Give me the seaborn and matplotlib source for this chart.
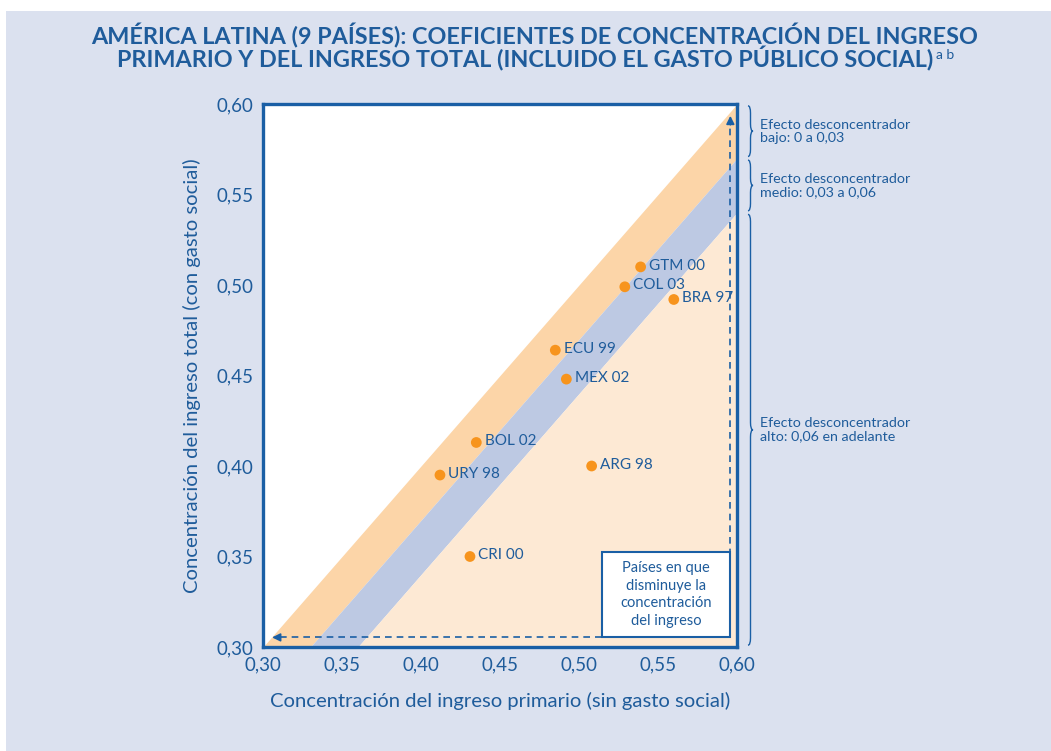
import matplotlib
matplotlib.use("Agg")
import matplotlib.pyplot as plt
import seaborn as sns
import pandas as pd
import numpy as np
from matplotlib.path import Path
from matplotlib.patches import PathPatch, Rectangle
from matplotlib.transforms import blended_transform_factory
from matplotlib.ticker import FuncFormatter

# ---------------- data ----------------
paises = ["GTM 00", "COL 03", "BRA 97", "ECU 99", "MEX 02", "BOL 02", "URY 98", "ARG 98", "CRI 00"]
ingreso_primario = [0.539, 0.529, 0.560, 0.485, 0.492, 0.435, 0.412, 0.508, 0.431]
ingreso_total = [0.510, 0.499, 0.492, 0.464, 0.448, 0.413, 0.395, 0.400, 0.350]
ticks = [0.30, 0.35, 0.40, 0.45, 0.50, 0.55, 0.60]
limites_efecto = [0.0, 0.03, 0.06]
etiquetas_efecto = ["Efecto desconcentrador\nbajo: 0 a 0,03",
                    "Efecto desconcentrador\nmedio: 0,03 a 0,06",
                    "Efecto desconcentrador\nalto: 0,06 en adelante"]

df = pd.DataFrame({"pais": paises, "x": ingreso_primario, "y": ingreso_total})

# ---------------- style ----------------
sns.set_style("white")
plt.rcParams["font.family"] = ["Lato", "DejaVu Sans"]

BLUE = "#1f5c9b"
SPINE = "#1a5fa5"
LAV = "#dbe1ef"
ORANGE_BAND = "#fcd5a8"
BLUE_BAND = "#bdc9e3"
PEACH = "#fde9d4"
DOT = "#f7941d"

fig = plt.figure(figsize=(10.51, 7.51), dpi=100)
fig.patch.set_facecolor("white")
fig.patches.append(Rectangle((6 / 1051, 0), 1 - 6 / 1051, 1 - 11 / 751,
                             transform=fig.transFigure, facecolor=LAV,
                             edgecolor="none", zorder=-10))

ax = fig.add_axes([263 / 1051, 1 - 647 / 751, 474 / 1051, 543 / 751])
ax.set_facecolor("white")
lo, hi = ticks[0], ticks[-1]
ax.set_xlim(lo, hi)
ax.set_ylim(lo, hi)

xs = np.array([lo, hi])
ax.fill_between(xs, xs - limites_efecto[0], xs - limites_efecto[1], color=ORANGE_BAND, lw=0, zorder=1)
ax.fill_between(xs, xs - limites_efecto[1], xs - limites_efecto[2], color=BLUE_BAND, lw=0, zorder=1)
ax.fill_between(xs, xs - limites_efecto[2], lo - 0.1, color=PEACH, lw=0, zorder=1)

# dashed arrows
xr, yb = 0.5958, 0.3053
ax.plot([xr, 0.309], [yb, yb], ls=(0, (4, 3)), color=SPINE, lw=1.2, zorder=2)
ax.plot([xr, xr], [yb, 0.588], ls=(0, (4, 3)), color=SPINE, lw=1.2, zorder=2)
ax.annotate("", xy=(0.304, yb), xytext=(0.312, yb),
            arrowprops=dict(arrowstyle="-|>", color=SPINE, lw=1.2, mutation_scale=12), zorder=3)
ax.annotate("", xy=(xr, 0.595), xytext=(xr, 0.587),
            arrowprops=dict(arrowstyle="-|>", color=SPINE, lw=1.2, mutation_scale=12), zorder=3)

# box
bx0, bx1, by0, by1 = 0.5144, xr, yb, 0.3527
ax.add_patch(Rectangle((bx0, by0), bx1 - bx0, by1 - by0, facecolor="white",
                       edgecolor=SPINE, lw=1.5, zorder=4))
ax.text((bx0 + bx1) / 2, (by0 + by1) / 2, "Países en que\ndisminuye la\nconcentración\ndel ingreso",
        ha="center", va="center", color=BLUE, fontsize=10.5, linespacing=1.35, zorder=5)

# points
sns.scatterplot(data=df, x="x", y="y", ax=ax, color=DOT, s=60, edgecolor="none", zorder=6, legend=False)
for p, x, y in zip(paises, ingreso_primario, ingreso_total):
    ax.annotate(p, (x, y), xytext=(6, 1), textcoords="offset points", ha="left", va="center",
                color=BLUE, fontsize=11, zorder=7)

# axes styling
ax.set_xticks(ticks)
ax.set_yticks(ticks)
fmt = FuncFormatter(lambda v, _: f"{v:.2f}".replace(".", ","))
ax.xaxis.set_major_formatter(fmt)
ax.yaxis.set_major_formatter(fmt)
ax.tick_params(direction="in", length=7, width=1.2, color=SPINE, labelcolor=BLUE,
               labelsize=13.5, pad=7)
for s in ax.spines.values():
    s.set_color(SPINE)
    s.set_linewidth(2.4)
    s.set_zorder(10)
ax.set_xlabel("Concentración del ingreso primario (sin gasto social)", color=BLUE, fontsize=14.6, labelpad=13)
ax.set_ylabel("Concentración del ingreso total (con gasto social)", color=BLUE, fontsize=14.6, labelpad=11)

# braces on the right
tr = blended_transform_factory(fig.transFigure, ax.transData)
bxf = 748 / 1051
bw = 5 / 1051
r = 0.004


def brace(y0, y1):
    ym = (y0 + y1) / 2
    xm = bxf + bw / 2
    verts = [(bxf, y1), (xm, y1), (xm, y1 - r), (xm, ym + r), (xm, ym), (bxf + bw, ym),
             (xm, ym), (xm, ym - r), (xm, y0 + r), (xm, y0), (bxf, y0)]
    codes = [Path.MOVETO, Path.CURVE3, Path.CURVE3, Path.LINETO, Path.CURVE3, Path.CURVE3,
             Path.CURVE3, Path.CURVE3, Path.LINETO, Path.CURVE3, Path.CURVE3]
    fig.patches.append(PathPatch(Path(verts, codes), transform=tr, facecolor="none",
                                 edgecolor=SPINE, lw=1.0))
    return ym


bounds = [hi - limites_efecto[0], hi - limites_efecto[1], hi - limites_efecto[2], lo]
for i, lab in enumerate(etiquetas_efecto):
    ym = brace(bounds[i + 1] + 0.001, bounds[i] - 0.001)
    fig.text(760 / 1051, ym, lab, transform=tr, ha="left", va="center", color=BLUE,
             fontsize=10.3, linespacing=1.1)

# title
t1 = fig.text(535 / 1051, 1 - 36 / 751,
              "AMÉRICA LATINA (9 PAÍSES): COEFICIENTES DE CONCENTRACIÓN DEL INGRESO",
              ha="center", va="center", color=BLUE, fontsize=16.8, fontweight="bold")
t2 = fig.text(525 / 1051, 1 - 59 / 751,
              "PRIMARIO Y DEL INGRESO TOTAL (INCLUIDO EL GASTO PÚBLICO SOCIAL)",
              ha="center", va="center", color=BLUE, fontsize=16.8, fontweight="bold")
fig.canvas.draw()
bb = t2.get_window_extent()
fig.text((bb.x1 + 3) / 1051, (bb.y1 - 3) / 751, "a b", ha="left", va="top",
         color=BLUE, fontsize=10)

fig.savefig("out.png", dpi=100, facecolor=fig.get_facecolor())
